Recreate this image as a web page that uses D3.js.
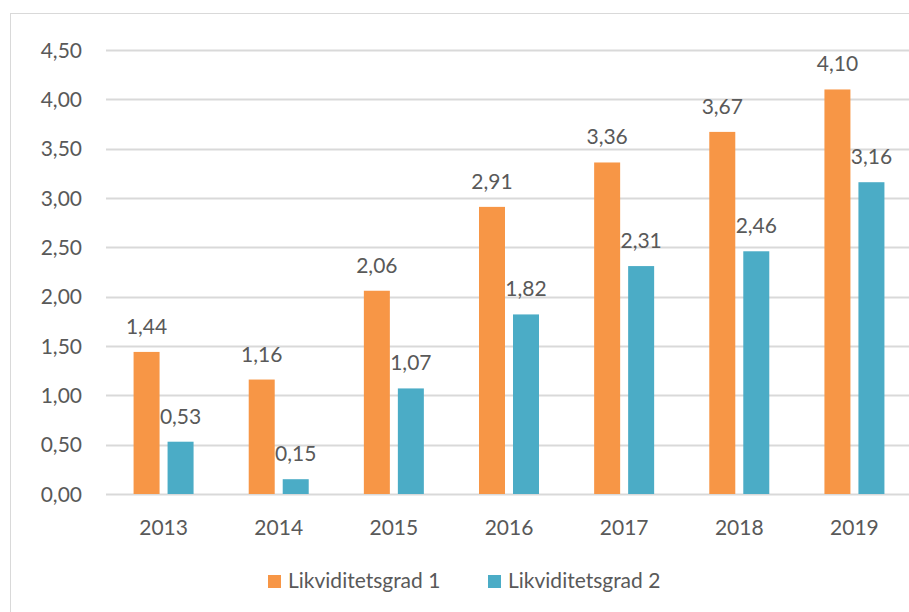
<!DOCTYPE html>
<html>
<head>
<meta charset="utf-8">
<script src="https://cdn.jsdelivr.net/npm/d3@7"></script>
<style>
  body { margin: 0; background: #fff; }
  text { font-family: Lato, "Open Sans", sans-serif; fill: #595959; font-size: 21px; }
</style>
</head>
<body>
<svg id="chart" width="909" height="612"></svg>
<script>
// Chart data
var years = ['2013', '2014', '2015', '2016', '2017', '2018', '2019'];
var grad1 = [1.44, 1.16, 2.06, 2.91, 3.36, 3.67, 4.10];
var grad2 = [0.53, 0.15, 1.07, 1.82, 2.31, 2.46, 3.16];
var seriesNames = ['Likviditetsgrad 1', 'Likviditetsgrad 2'];
var yTicks = [0, 0.5, 1, 1.5, 2, 2.5, 3, 3.5, 4, 4.5];

var COLORS = ['#F79646', '#4BACC6'];
var LEFT = 106, RIGHT = 912, TOP = 50, BOTTOM = 494;

var svg = d3.select('#chart');
var fmt = function (v) { return d3.format('.2f')(v).replace('.', ','); };

// Chart frame (cropped at right and bottom)
svg.append('rect')
	.attr('x', 10.5).attr('y', 13.5)
	.attr('width', 920).attr('height', 620)
	.attr('fill', 'none').attr('stroke', '#d9d9d9').attr('stroke-width', 1);

var x = d3.scaleBand().domain(years).range([LEFT, RIGHT]);
var y = d3.scaleLinear().domain([0, 4.5]).range([BOTTOM, TOP]);

// Gridlines
svg.append('g').selectAll('line').data(yTicks).enter().append('line')
	.attr('x1', LEFT).attr('x2', RIGHT)
	.attr('y1', function (d) { return Math.round(y(d)) + 0.5; })
	.attr('y2', function (d) { return Math.round(y(d)) + 0.5; })
	.attr('stroke', '#d9d9d9').attr('stroke-width', 2);

// Y axis labels
svg.append('g').selectAll('text').data(yTicks).enter().append('text')
	.attr('x', 82).attr('y', function (d) { return y(d) + 7.5; })
	.attr('text-anchor', 'end')
	.text(fmt);

// X axis labels
svg.append('g').selectAll('text').data(years).enter().append('text')
	.attr('x', function (d) { return x(d) + x.bandwidth() / 2; })
	.attr('y', 535).attr('text-anchor', 'middle')
	.text(function (d) { return d; });

var BAR_W = 26, GAP = 8;
[grad1, grad2].forEach(function (vals, s) {
	var offset = s === 0 ? -GAP / 2 - BAR_W : GAP / 2;
	var g = svg.append('g');
	g.selectAll('rect').data(vals).enter().append('rect')
		.attr('x', function (d, i) { return x(years[i]) + x.bandwidth() / 2 + offset; })
		.attr('y', function (d) { return y(d); })
		.attr('width', BAR_W)
		.attr('height', function (d) { return y(0) - y(d); })
		.attr('fill', COLORS[s]);
	g.selectAll('text').data(vals).enter().append('text')
		.attr('x', function (d, i) { return x(years[i]) + x.bandwidth() / 2 + offset + BAR_W / 2; })
		.attr('y', function (d) { return y(d) - 18; })
		.attr('text-anchor', 'middle')
		.text(fmt);
});

// Legend
var legendX = [268, 488];
var legend = svg.append('g').selectAll('g').data(seriesNames).enter().append('g')
	.attr('transform', function (d, i) { return 'translate(' + legendX[i] + ',588)'; });
legend.append('rect').attr('x', 0).attr('y', -13).attr('width', 13).attr('height', 13)
	.attr('fill', function (d, i) { return COLORS[i]; });
legend.append('text').attr('x', 20).attr('y', 0)
	.text(function (d) { return d; });
</script>
</body>
</html>
